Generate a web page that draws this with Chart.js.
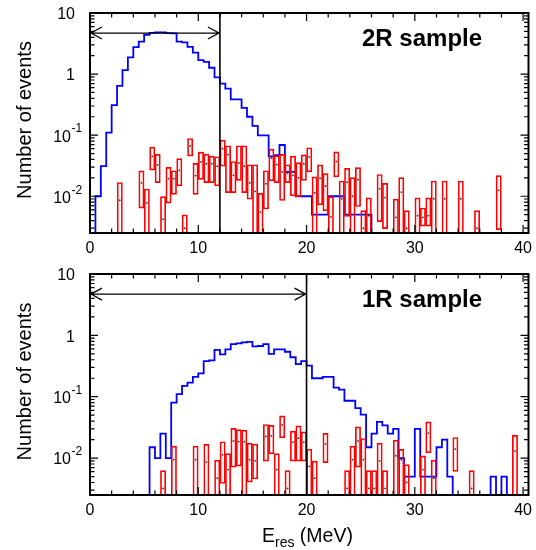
<!DOCTYPE html>
<html>
<head>
<meta charset="utf-8">
<script src="https://cdn.jsdelivr.net/npm/chart.js@4/dist/chart.umd.min.js"></script>
<style>
  html, body { margin: 0; padding: 0; background: #fff; }
  #wrap { position: relative; width: 536px; height: 550px; }
  canvas { position: absolute; left: 0; }
</style>
</head>
<body>
<div id="wrap">
  <canvas id="top" width="536" height="260" style="top:0"></canvas>
  <canvas id="bottom" width="536" height="290" style="top:260px"></canvas>
</div>
<script>
// 0.5 MeV bins from 0 to 40.5 MeV
const BIN_WIDTH = 0.5;
const X_MAX = 40.5;
const Y_MIN = 0.0025, Y_MAX = 10;
const EMPTY = 1e-4; // empty bins / open error boxes drop below the axis

// blue histogram, 2R sample (bins 0..80)
const blue2R = [0, 0.01, 0.031, 0.11, 0.31, 0.64, 1.16, 1.87, 2.76, 3.41,
  4.37, 4.72, 4.8, 4.8, 4.7, 4.65, 3.41, 3.3, 2.79, 2.25,
  1.69, 1.59, 1.27, 0.88, 0.70, 0.58, 0.386, 0.386, 0.28, 0.20,
  0.142, 0.099, 0.099, 0.045, 0.047, 0.069, 0.025, 0.025, 0.01, 0.01,
  0.01, 0.005, 0.005, 0.005, 0.01, 0.01, 0.01, 0.005, 0.005, 0.005,
  0.005, 0.005, 0, 0, 0, 0, 0, 0, 0, 0,
  0, 0, 0, 0, 0, 0, 0, 0, 0, 0,
  0, 0, 0, 0, 0, 0, 0, 0, 0, 0,
  0];

// red points with error boxes, 2R sample
const red2R_E = [2.75, 4.75, 5.25, 5.75, 6.25, 6.75, 7.25, 7.75, 8.25, 8.75,
  9.25, 9.75, 10.25, 10.75, 11.25, 11.75, 12.25, 12.75, 13.25, 13.75,
  14.25, 14.75, 15.25, 15.75, 16.25, 16.75, 17.25, 17.75, 18.25, 18.75,
  19.25, 19.75, 20.25, 20.75, 21.25, 21.75, 22.25, 22.75, 23.25, 23.75,
  24.25, 24.75, 25.25, 25.75, 26.75, 27.25, 28.25, 28.75, 29.25, 30.25,
  30.75, 31.25, 31.75, 32.75, 34.25, 35.75, 37.75];
const red2R_val = [0.0086, 0.0166, 0.0078, 0.0449, 0.0325, 0.0042, 0.0194, 0.0194, 0.0265, 0.003,
  0.0665, 0.0218, 0.0365, 0.034, 0.034, 0.031, 0.06, 0.048, 0.022, 0.035,
  0.031, 0.0165, 0.012, 0.0055, 0.016, 0.042, 0.033, 0.025, 0.024, 0.022,
  0.02, 0.034, 0.044, 0.0114, 0.0197, 0.0147, 0.0046, 0.037, 0.0091, 0.017,
  0.01, 0.0186, 0.003, 0.0048, 0.0132, 0.0095, 0.0045, 0.0117, 0.003, 0.0048,
  0.0045, 0.0048, 0.0091, 0.0091, 0.0091, 0.003, 0.0125];
const red2R_lo = [0, 0.0063, 0, 0.0265, 0.0165, 0, 0.0076, 0.0106, 0.0146, 0,
  0.0449, 0.0106, 0.0187, 0.0165, 0.0165, 0.0146, 0.0308, 0.0113, 0.0113, 0.018,
  0.0113, 0.0088, 0, 0, 0.0061, 0.0176, 0.0165, 0.0084, 0.0165, 0.01,
  0.0097, 0.018, 0.0247, 0, 0.0071, 0.0057, 0, 0.0205, 0, 0.0046,
  0, 0.0067, 0, 0, 0.0038, 0.0029, 0, 0, 0, 0,
  0.0032, 0.0032, 0, 0, 0, 0, 0.0028];
const red2R_hi = [0.017, 0.0263, 0.0133, 0.0646, 0.049, 0.01, 0.030, 0.0265, 0.0417, 0.005,
  0.0893, 0.0349, 0.0535, 0.0495, 0.046, 0.0449, 0.084, 0.068, 0.0375, 0.068,
  0.068, 0.0332, 0.0332, 0.0113, 0.0265, 0.06, 0.047, 0.049, 0.0332, 0.046,
  0.036, 0.048, 0.063, 0.021, 0.033, 0.0238, 0.01, 0.054, 0.018, 0.029,
  0.0205, 0.0298, 0.0059, 0.0095, 0.023, 0.0164, 0.0091, 0.0205, 0.0059, 0.0095,
  0.0065, 0.0095, 0.018, 0.018, 0.018, 0.0059, 0.022];

// blue histogram, 1R sample (bins 0..80)
const blue1R = [0, 0, 0, 0, 0, 0, 0, 0, 0, 0,
  0, 0.015, 0.01, 0.025, 0.01, 0.08, 0.11, 0.15, 0.17, 0.21,
  0.24, 0.38, 0.39, 0.58, 0.49, 0.59, 0.72, 0.74, 0.77, 0.78,
  0.66, 0.67, 0.72, 0.50, 0.59, 0.59, 0.54, 0.44, 0.34, 0.38,
  0.32, 0.20, 0.20, 0.21, 0.21, 0.141, 0.13, 0.086, 0.086, 0.065,
  0.051, 0.015, 0.025, 0.039, 0.034, 0.025, 0.030, 0.01, 0.005, 0.005,
  0.030, 0.005, 0.005, 0.005, 0.015, 0.02, 0.005, 0, 0, 0,
  0, 0, 0, 0, 0.005, 0, 0.005, 0, 0, 0,
  0];

// red points with error boxes, 1R sample
const red1R_E = [6.75, 7.75, 9.75, 10.75, 11.75, 12.25, 12.75, 13.25, 13.75, 14.25,
  14.75, 15.25, 16.25, 16.75, 17.25, 17.75, 18.25, 18.75, 19.25, 19.75,
  20.25, 20.75, 21.75, 23.75, 24.25, 24.75, 25.25, 25.75, 26.25, 26.75,
  27.25, 28.25, 28.75, 29.25, 30.75, 31.25, 31.75, 33.75, 35.25, 39.25];
const red1R_val = [0.0032, 0.0094, 0.0094, 0.0086, 0.0047, 0.0113, 0.0065, 0.019, 0.0185, 0.0185,
  0.0094, 0.009, 0.0225, 0.023, 0.0065, 0.0348, 0.0032, 0.0182, 0.0211, 0.0182,
  0.0073, 0.0047, 0.0169, 0.0032, 0.0094, 0.019, 0.0094, 0.0032, 0.0032, 0.009,
  0.0032, 0.0109, 0.0094, 0.004, 0.0065, 0.0255, 0.0047, 0.014, 0.0032, 0.013];
const red1R_lo = [0, 0, 0, 0, 0, 0.0038, 0, 0.007, 0.0073, 0,
  0.004, 0.0045, 0.0088, 0.0116, 0, 0.0211, 0, 0.0088, 0.0088, 0.0088,
  0, 0, 0.0083, 0, 0, 0.007, 0, 0, 0, 0,
  0, 0, 0, 0, 0, 0.012, 0, 0.006, 0, 0];
const red1R_hi = [0.0063, 0.0158, 0.0158, 0.0169, 0.0094, 0.0187, 0.012, 0.0308, 0.0295, 0.029,
  0.0178, 0.017, 0.0357, 0.0346, 0.012, 0.0494, 0.0063, 0.0278, 0.034, 0.0271,
  0.0142, 0.009, 0.0255, 0.0063, 0.0158, 0.0327, 0.0211, 0.0063, 0.0063, 0.0178,
  0.0063, 0.0199, 0.014, 0.0079, 0.011, 0.0394, 0.0094, 0.0219, 0.0063, 0.0237];

// axis labelling
const xTicks = [0, 10, 20, 30, 40];
const yTicks = [10, 1, 0.1, 0.01];
const yTickBase = ['10', '1', '10', '10'];
const yTickExp = ['', '', '-1', '-2'];

const ARROW_Y = 4.7;
const FONT = '"Liberation Sans", Arial, Helvetica, sans-serif';

const axesPlugin = {
  id: 'rootAxes',
  afterDatasetsDraw(chart, args, opts) {
    const { ctx, chartArea: a, scales: { x, y } } = chart;
    ctx.save();
    ctx.strokeStyle = '#000';
    ctx.fillStyle = '#000';

    // selection cut and arrow
    const xc = x.getPixelForValue(opts.cut);
    const x0 = x.getPixelForValue(0);
    const ya = y.getPixelForValue(ARROW_Y);
    ctx.lineWidth = 1.6;
    ctx.beginPath();
    ctx.moveTo(xc, a.top); ctx.lineTo(xc, a.bottom);
    ctx.stroke();
    ctx.lineWidth = 1.3;
    ctx.beginPath();
    ctx.moveTo(x0, ya); ctx.lineTo(xc, ya);
    ctx.moveTo(x0 + 12, ya - 6); ctx.lineTo(x0 + 1, ya); ctx.lineTo(x0 + 12, ya + 6);
    ctx.moveTo(xc - 12, ya - 6); ctx.lineTo(xc - 1, ya); ctx.lineTo(xc - 12, ya + 6);
    ctx.stroke();

    // inward ticks on all four sides
    ctx.lineWidth = 1.2;
    ctx.beginPath();
    for (let v = 0; v <= 40; v += 2) {
      const px = x.getPixelForValue(v);
      const len = v % 10 === 0 ? 8 : 4.5;
      ctx.moveTo(px, a.bottom); ctx.lineTo(px, a.bottom - len);
      ctx.moveTo(px, a.top); ctx.lineTo(px, a.top + len);
    }
    for (let e = -3; e <= 1; e++) {
      for (let m = 1; m <= 9; m++) {
        const v = m * Math.pow(10, e);
        if (v < Y_MIN || v > Y_MAX) continue;
        const py = y.getPixelForValue(v);
        const len = m === 1 ? 8 : 4.5;
        ctx.moveTo(a.left, py); ctx.lineTo(a.left + len, py);
        ctx.moveTo(a.right, py); ctx.lineTo(a.right - len, py);
      }
    }
    ctx.stroke();

    // frame
    ctx.lineWidth = 2;
    ctx.strokeRect(a.left, a.top, a.right - a.left, a.bottom - a.top);

    // x tick labels
    ctx.font = '16px ' + FONT;
    ctx.textAlign = 'center';
    ctx.textBaseline = 'alphabetic';
    xTicks.forEach(v => ctx.fillText(String(v), x.getPixelForValue(v), a.bottom + 20));

    // y tick labels (10, 1, 10^-1, 10^-2)
    ctx.textBaseline = 'middle';
    yTicks.forEach((v, i) => {
      const py = y.getPixelForValue(v) + 2;
      ctx.font = '16px ' + FONT;
      if (!yTickExp[i]) {
        ctx.textAlign = 'right';
        ctx.fillText(yTickBase[i], 75, py);
      } else {
        ctx.textAlign = 'right';
        ctx.fillText(yTickBase[i], 71, py);
        ctx.font = '12px ' + FONT;
        ctx.textAlign = 'left';
        ctx.fillText(yTickExp[i], 71.5, py - 8);
      }
    });

    // y title
    ctx.save();
    ctx.translate(31, (a.top + a.bottom) / 2 - 3);
    ctx.rotate(-Math.PI / 2);
    ctx.font = '20px ' + FONT;
    ctx.textAlign = 'center';
    ctx.textBaseline = 'alphabetic';
    ctx.fillText('Number of events', 0, 0);
    ctx.restore();

    // sample label
    ctx.font = 'bold 24px ' + FONT;
    ctx.textAlign = 'left';
    ctx.textBaseline = 'alphabetic';
    ctx.fillText(opts.label, 362, a.top + 33);

    // x title with subscript
    if (opts.xTitle) {
      let tx = 262;
      const ty = a.bottom + 47;
      ctx.font = '19.5px ' + FONT;
      ctx.fillText('E', tx, ty);
      tx += ctx.measureText('E').width;
      ctx.font = '14px ' + FONT;
      ctx.fillText('res', tx, ty + 5);
      tx += ctx.measureText('res').width;
      ctx.font = '19.5px ' + FONT;
      ctx.fillText(' (MeV)', tx, ty);
    }
    ctx.restore();
  }
};

function histPoints(values) {
  const pts = values.map((v, i) => ({ x: i * BIN_WIDTH, y: v > 0 ? v : EMPTY }));
  const last = values[values.length - 1];
  pts.push({ x: values.length * BIN_WIDTH, y: last > 0 ? last : EMPTY });
  return pts;
}

function makePanel(canvasId, blue, rE, rVal, rLo, rHi, cut, label, padTop, padBottom, xTitle) {
  return new Chart(document.getElementById(canvasId), {
    type: 'line',
    data: {
      datasets: [
        {
          type: 'line',
          data: histPoints(blue),
          stepped: 'before',
          borderColor: '#0000ff',
          borderWidth: 1.8,
          pointRadius: 0,
          fill: false,
          order: 3
        },
        {
          type: 'bar',
          data: rE.map((e, k) => ({ x: e, y: [rLo[k] > 0 ? rLo[k] : EMPTY, rHi[k]] })),
          backgroundColor: 'rgba(0,0,0,0)',
          borderColor: '#ff0000',
          borderWidth: 1.7,
          borderSkipped: false,
          barPercentage: 1.1,
          categoryPercentage: 1,
          order: 2
        },
        {
          type: 'line',
          data: rE.map((e, k) => ({ x: e, y: rVal[k] })),
          showLine: false,
          pointRadius: 0.9,
          pointBorderWidth: 0,
          pointBackgroundColor: '#333',
          order: 1
        }
      ]
    },
    options: {
      responsive: false,
      animation: false,
      events: [],
      layout: { padding: { left: 90, right: 7.5, top: padTop, bottom: padBottom } },
      plugins: {
        legend: { display: false },
        tooltip: { enabled: false },
        rootAxes: { cut, label, xTitle }
      },
      scales: {
        x: {
          type: 'linear', min: 0, max: X_MAX, offset: false, display: false,
          ticks: { stepSize: 10, includeBounds: false }
        },
        y: { type: 'logarithmic', min: Y_MIN, max: Y_MAX, display: false }
      }
    },
    plugins: [axesPlugin]
  });
}

makePanel('top', blue2R, red2R_E, red2R_val, red2R_lo, red2R_hi, 12, '2R sample', 13, 27, false);
makePanel('bottom', blue1R, red1R_E, red1R_val, red1R_lo, red1R_hi, 20, '1R sample', 14, 55, true);
</script>
</body>
</html>
